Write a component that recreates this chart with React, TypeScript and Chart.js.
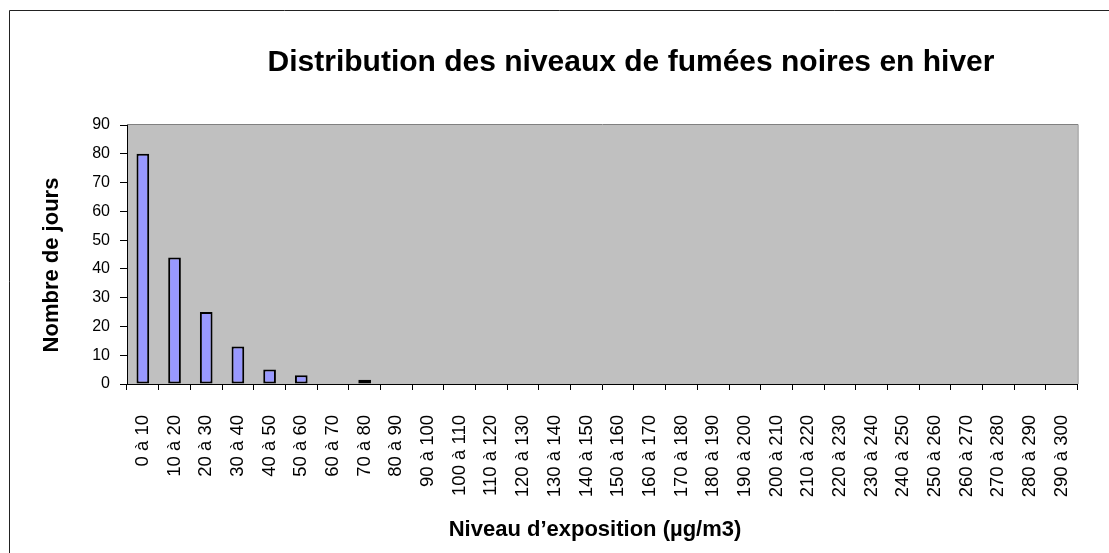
import React, { useEffect, useRef } from "react";
import { Chart, registerables } from "chart.js";

Chart.register(...registerables);

const categories = [
  "0 à 10", "10 à 20", "20 à 30", "30 à 40", "40 à 50", "50 à 60",
  "60 à 70", "70 à 80", "80 à 90", "90 à 100", "100 à 110", "110 à 120",
  "120 à 130", "130 à 140", "140 à 150", "150 à 160", "160 à 170", "170 à 180",
  "180 à 190", "190 à 200", "200 à 210", "210 à 220", "220 à 230", "230 à 240",
  "240 à 250", "250 à 260", "260 à 270", "270 à 280", "280 à 290", "290 à 300",
];

const nombreDeJours = [
  80, 44, 25, 13, 5, 3, 0, 1.5, 0, 0,
  0, 0, 0, 0, 0, 0, 0, 0, 0, 0,
  0, 0, 0, 0, 0, 0, 0, 0, 0, 0,
];

const yMin = 0;
const yMax = 90;
const yStep = 10;

const chartTitle = "Distribution des niveaux de fumées noires en hiver";
const yTitle = "Nombre de jours";
const xTitle = "Niveau d’exposition (µg/m3)";

const FONT = '"Liberation Sans", Arial, Helvetica, sans-serif';

const decorPlugin = {
  id: "decor",
  beforeDraw(chart: any) {
    const { ctx, chartArea: a } = chart;
    ctx.save();
    ctx.fillStyle = "#ffffff";
    ctx.fillRect(0, 0, chart.width, chart.height);
    // outer frame
    ctx.strokeStyle = "#222222";
    ctx.lineWidth = 1;
    ctx.beginPath();
    ctx.moveTo(9.5, chart.height);
    ctx.lineTo(9.5, 10.5);
    ctx.lineTo(chart.width, 10.5);
    ctx.stroke();
    // plot area
    ctx.fillStyle = "#C0C0C0";
    ctx.fillRect(a.left, a.top, a.right - a.left, a.bottom - a.top);
    ctx.strokeStyle = "#808080";
    ctx.beginPath();
    ctx.moveTo(a.left, a.top - 0.5);
    ctx.lineTo(a.right + 0.5, a.top - 0.5);
    ctx.lineTo(a.right + 0.5, a.bottom);
    ctx.stroke();
    ctx.restore();
  },
  afterDraw(chart: any) {
    const { ctx } = chart;
    ctx.save();
    ctx.fillStyle = "#000000";
    ctx.textAlign = "center";
    ctx.textBaseline = "alphabetic";
    ctx.font = `bold 30px ${FONT}`;
    ctx.fillText(chartTitle, 631, 71);
    ctx.font = `bold 22px ${FONT}`;
    ctx.fillText(xTitle, 595, 536);
    ctx.translate(58, 265);
    ctx.rotate(-Math.PI / 2);
    ctx.fillText(yTitle, 0, 0);
    ctx.restore();
  },
};

export default function App() {
  const ref = useRef<HTMLCanvasElement | null>(null);

  useEffect(() => {
    if (!ref.current) return;
    const chart = new Chart(ref.current, {
      type: "bar",
      data: {
        labels: categories,
        datasets: [
          {
            label: yTitle,
            data: nombreDeJours,
            backgroundColor: "#9999FF",
            borderColor: "#000000",
            borderWidth: 2,
            borderSkipped: false,
            barPercentage: 0.4,
            categoryPercentage: 1,
          },
        ],
      },
      options: {
        animation: false,
        responsive: false,
        events: [],
        layout: { padding: { left: 0, right: 5, top: 125, bottom: 0 } },
        plugins: {
          legend: { display: false },
          title: { display: false },
          tooltip: { enabled: false },
        },
        scales: {
          x: {
            type: "category",
            offset: true,
            afterFit: (s: any) => {
              s.height = 169;
            },
            grid: {
              offset: true,
              drawOnChartArea: false,
              drawTicks: true,
              tickLength: 6,
              color: "#000000",
            },
            border: { display: true, color: "#000000", width: 1 },
            ticks: {
              autoSkip: false,
              minRotation: 90,
              maxRotation: 90,
              padding: 25,
              color: "#000000",
              font: { family: FONT, size: 18.5 },
            },
          },
          y: {
            min: yMin,
            max: yMax,
            afterFit: (s: any) => {
              s.width = 127;
            },
            grid: {
              drawOnChartArea: false,
              drawTicks: true,
              tickLength: 7,
              color: "#000000",
            },
            border: { display: true, color: "#000000", width: 1 },
            ticks: {
              stepSize: yStep,
              padding: 10,
              color: "#000000",
              font: { family: FONT, size: 16 },
            },
          },
        },
      },
      plugins: [decorPlugin],
    });
    return () => chart.destroy();
  }, []);

  return (
    <div style={{ position: "absolute", left: 0, top: 0, width: 1109, height: 553 }}>
      <canvas ref={ref} width={1109} height={553} style={{ display: "block" }} />
    </div>
  );
}
